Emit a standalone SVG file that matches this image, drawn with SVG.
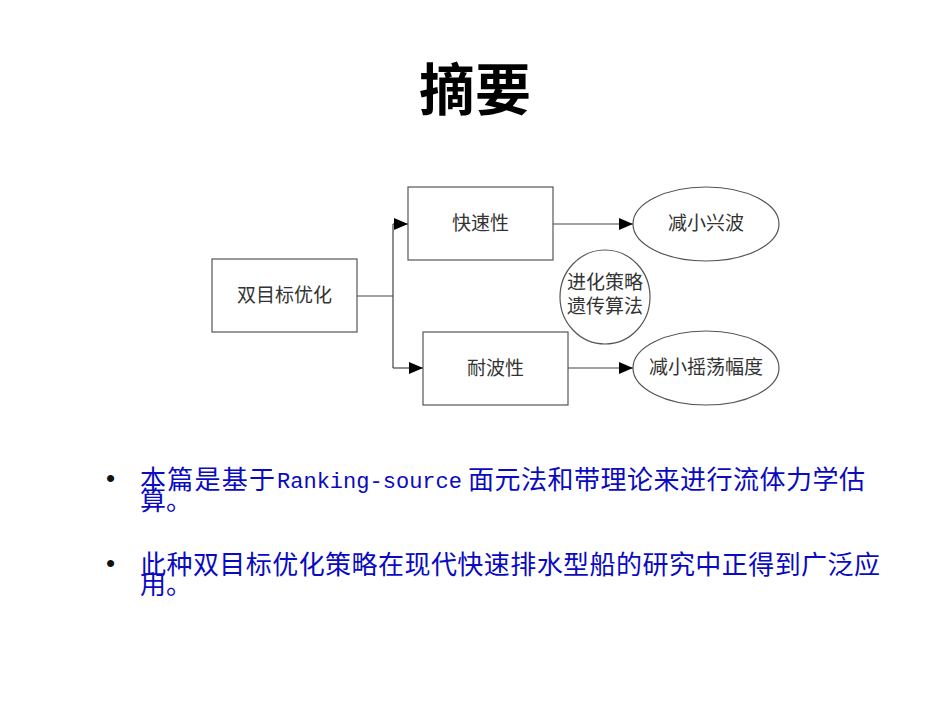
<svg xmlns="http://www.w3.org/2000/svg" width="950" height="713" viewBox="0 0 950 713">
<style>
.box{fill:#fff;stroke:#555;stroke-width:1.2}
.lbl{font-family:"Noto Sans CJK SC","Liberation Sans",sans-serif;font-size:19px;fill:#333;text-anchor:middle}
.ln{fill:none;stroke:#444;stroke-width:1.2}
.bt{font-family:"Noto Sans CJK SC","Liberation Sans",sans-serif;font-size:26px;fill:#0a0ac0}
.mono{font-family:"Liberation Mono","Noto Sans CJK SC",monospace;font-size:22px}
.bul{font-family:"Liberation Sans",sans-serif;font-size:26px;fill:#111}
</style>
<defs>
<marker id="arr" markerWidth="14" markerHeight="12" refX="14" refY="6" orient="auto" markerUnits="userSpaceOnUse">
<path d="M0,0 L14,6 L0,12 Z" fill="#000"/>
</marker>
</defs>
<rect width="950" height="713" fill="#fff"/>
<text x="475" y="110" font-family="Noto Sans CJK SC,sans-serif" font-size="56" font-weight="bold" text-anchor="middle" fill="#000">摘要</text>

<g id="connectors">
<path class="ln" d="M357,296 H393"/>
<path class="ln" d="M393,224 V368"/>
<path class="ln" d="M393,224 H408" marker-end="url(#arr)"/>
<path class="ln" d="M393,368 H423" marker-end="url(#arr)"/>
<path class="ln" d="M553,224 H633" marker-end="url(#arr)"/>
<path class="ln" d="M568,368 H633" marker-end="url(#arr)"/>
</g>

<g id="n-dual">
<rect class="box" x="212" y="259" width="145" height="73"/>
<text class="lbl" x="284.5" y="302">双目标优化</text>
</g>
<g id="n-speed">
<rect class="box" x="408" y="187" width="145" height="73"/>
<text class="lbl" x="480.5" y="230">快速性</text>
</g>
<g id="n-sea">
<rect class="box" x="423" y="332" width="145" height="73"/>
<text class="lbl" x="495.5" y="375">耐波性</text>
</g>
<g id="n-wave">
<ellipse class="box" cx="706" cy="224" rx="73" ry="37"/>
<text class="lbl" x="706" y="230">减小兴波</text>
</g>
<g id="n-ga">
<ellipse class="box" cx="605" cy="297" rx="45" ry="47"/>
<text class="lbl" font-size="20"><tspan x="605" y="289">进化策略</tspan><tspan x="605" y="313">遗传算法</tspan></text>
</g>
<g id="n-roll">
<ellipse class="box" cx="706" cy="368" rx="73" ry="37"/>
<text class="lbl" x="706" y="374">减小摇荡幅度</text>
</g>

<g id="bullets">
<text class="bul" x="106" y="487">•</text>
<text class="bt"><tspan x="140" y="489" textLength="135" lengthAdjust="spacing">本篇是基于</tspan><tspan class="mono" x="277" y="488" textLength="185" lengthAdjust="spacing">Ranking-source</tspan><tspan x="468" y="489" textLength="397" lengthAdjust="spacing">面元法和带理论来进行流体力学估</tspan><tspan x="140" y="510">算。</tspan></text>
<text class="bul" x="106" y="572">•</text>
<text class="bt"><tspan x="140" y="574" textLength="740" lengthAdjust="spacing">此种双目标优化策略在现代快速排水型船的研究中正得到广泛应</tspan><tspan x="140" y="594">用。</tspan></text>
</g>
</svg>
